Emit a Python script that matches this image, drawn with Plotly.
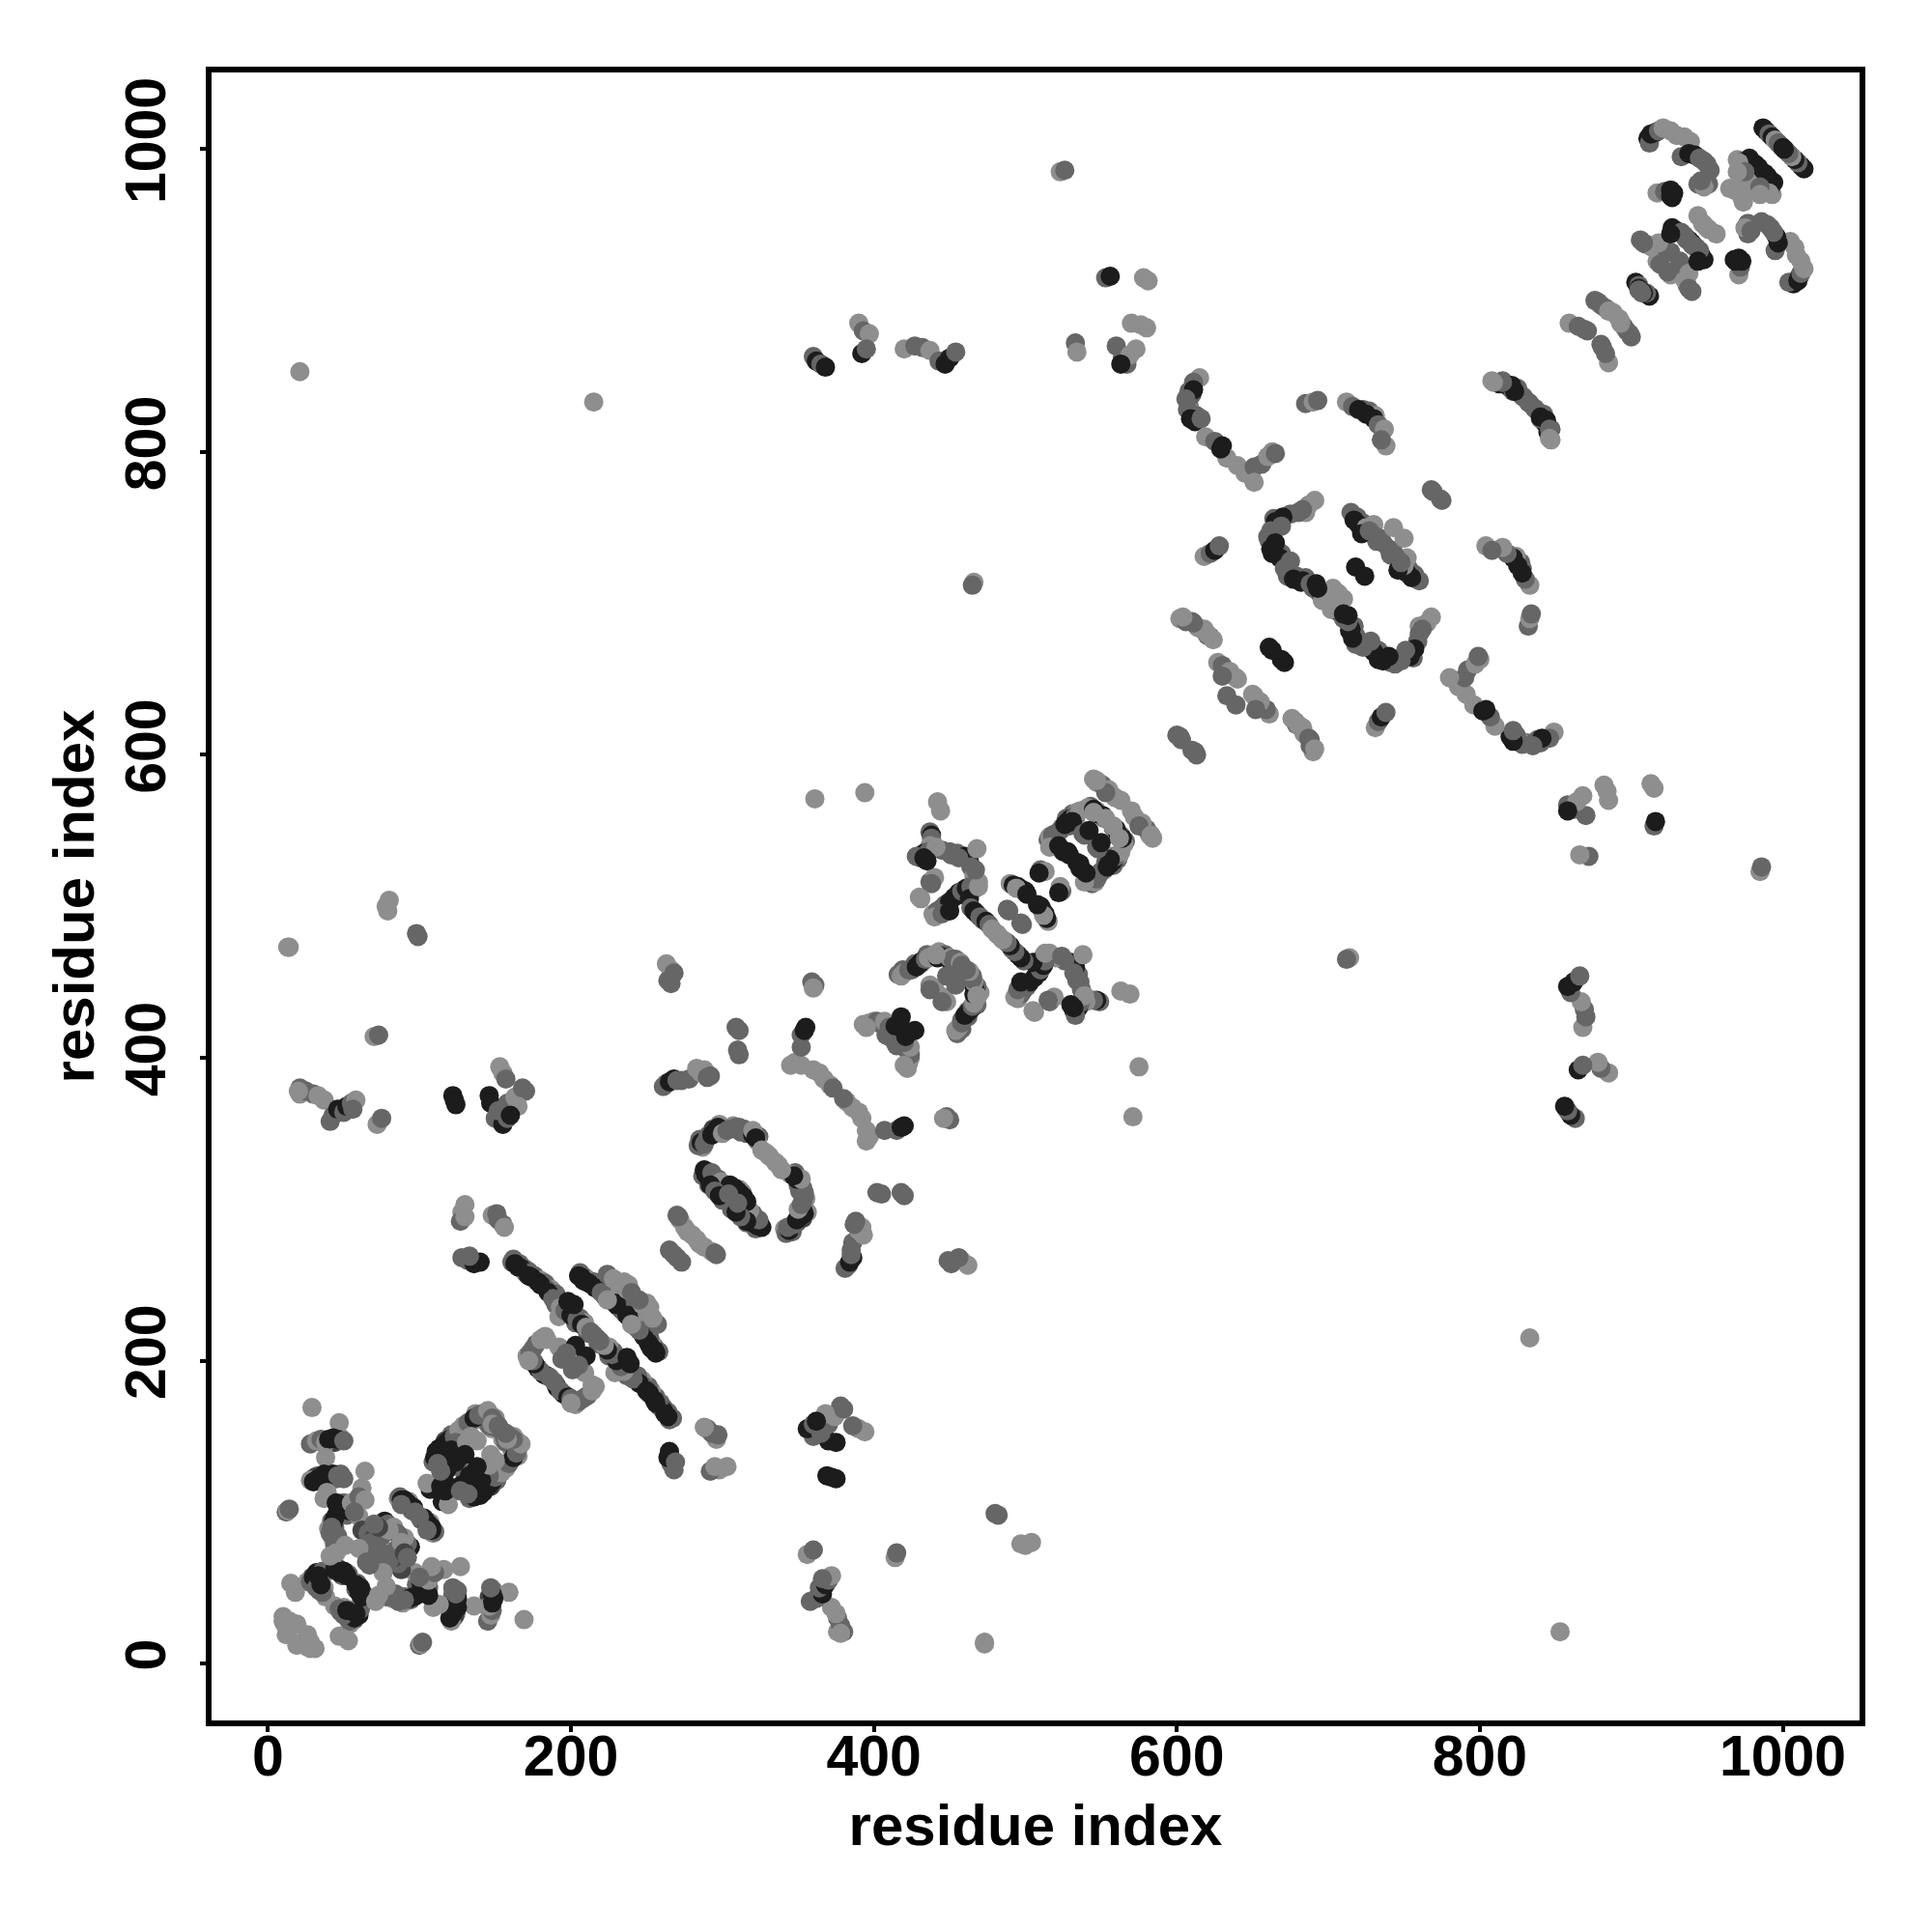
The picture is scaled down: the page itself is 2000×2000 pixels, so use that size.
import plotly.graph_objects as go

# contacts between residues: (residue i, residue j, strength 1..3); the map is symmetric
halo_contacts = [(29,57,2),(31,54,2.5),(35,60,2),(38,60,1),(46,63,2.5),(49,58,2),(53,59,2),(33,52,2),(37,50,1),
    (36,146,2),(41,147,2),(44,146,2.5),(48,149,1),(33,124,2),(39,126,2),(45,122,2),(48,125,2),(31,123,2.5),(47,103,2),(50,106,2),(52,98,2),(44,90,2),(42,94,2),(45,98,2),(40,89,1),(43,82,1),(46,84,2),
    (88,107,2),(93,107,1),(95,101,2),(91,105,2),
    (112,138,2),(114,141,1),(117,147,2.5),(119,144,2),(122,147,1),(121,151,2),(125,151,2),(128,154,2),(131,155,1),(134,160,2),(137,165,1),(141,161,1),(143,163,2),(147,164,2),(150,162,1),(151,156,1),(154,153,2),(155,148,1),(157,146,2),(116,130,2),(125,130,2),(113,135,2),
    (162,267,2),(166,264,2),(169,261,2),(172,259,2),(176,256,2),(180,253,1),(183,251,2),(187,247,1),(190,244,2),(184,247,2),(192,238,1),(199,234,2),(202,232,1),(206,228,2),(209,225,1),(203,225,2),(211,218,2),(215,217,2),
    (206,258,2),(209,255,2),(212,253,1),(215,252,2),(219,249,1),(223,246,2),(228,241,2),(232,238,1),(235,235,2),(239,232,2),(227,244,1),(233,240,2),
    (285,346,2),(287,341,1),(291,349,2),(294,353,2.5),(298,356,1),(301,353,2),(307,355,1),(314,353,2),(318,351,1),(324,348,2),(290,325,2),(294,321,2),(296,317,1),(301,316,2),(306,313,2),(303,309,2),(309,309,2),(313,311,1),(287,322,2),(291,316,2),
    (419,458,2),(427,462,2),(431,462,1),(435,468,2),(443,470,1),(447,468,2),(451,463,1),(455,463,2),
    (519,545,2),(524,552,1),(527,558,2),(531,561,2),(534,562,1),(543,566,2),(547,563,1),(552,558,2),(529,553,2),(533,557,1),(519,542,2),
    (610,838,2),(608,831,2),(610,826,1),(613,824,2),(815,847,2),(820,842,1),(826,839,2),(842,825,2),(723,828,2),(727,827,2),(731,824,1),
    (664,756,2),(667,753,2),(663,746,2),(660,744,2),(666,736,2),(669,733,2),(674,725,2),(679,718,2),(685,717,2),(690,710,2),(694,707,2),(685,760,1),(719,757,2),(723,753,2),(728,747,2),(732,741,2)]
block_near_start = [(10,31,1),(11,26,1),(12,19,1),(14,28,1),(19,26,1),(13,20,1),(12,26,1),(10,28,1),(15,53,1),(18,47,1),(12,100,2),(13,101,1),
    (26,54,1),(28,54,2),(30,57,3),(32,60,3),(34,55,2),(36,61,2),(40,62,2),(44,62,3),(47,60,3),(50,61,3),(52,58,3),(32,50,2),(34,48,2),(38,44,1),(36,47,2),(33,58,3),(35,52,3)]
block_arms = [(29,169,1),(47,159,1),(28,145,2),(32,147,1),(35,148,2),(38,146,1),(40,148,3),(43,149,3),(46,148,3),(50,147,2),(38,136,1),(28,121,1),(30,120,3),(33,122,3),(37,125,3),(40,124,3),(43,125,3),(46,124,2),(50,122,2),(64,127,1),(37,109,1),(39,113,1),
    (45,106,3),(47,105,3),(50,103,3),(53,101,3),(46,100,3),(44,96,3),(43,93,3),(42,90,2),(41,86,2),(44,78,2),(47,80,2),(51,78,1),(41,71,1),(45,73,1),(55,106,1),(62,116,1),(60,110,2),(64,108,1),(60,97,1),(57,100,2),
    (62,88,2.5),(66,86,2),(70,83,2.5),(68,80,2),(75,84,2),(74,74,2),(77,94,3),(79,92,2),(83,90,1),(85,86,2),(80,88,1),(73,90,2.5),(70,92,2),(66,78,2),(60,76,1),(67,65,2)]
block_pairs = [(86,109,1),(87,110,2),(88,108,3),(90,108,3),(92,106,3),(94,104,3),(96,103,3),(88,105,2),(97,100,2),
    (107,115,3),(116,122,3),(105,119,1),(114,117,3)]
block_barrel = [(109,133,2),(110,136,3),(111,140,3),(113,142,3),(116,144,3),(118,146,3),(120,148,3),(123,150,2),(126,154,1),(129,157,1),(132,159,2),(136,162,3),(139,164,2),(142,165,2),(145,167,1),(148,162,2),(150,159,2),(153,155,2),(156,150,2),(158,148,1),(152,157,2),
    (126,135,2),(138,147,1),(119,137,3),(122,134,3),(124,133,3),(127,142,2),(124,146,2),(115,131,3),(118,128,3),(114,127,2),(112,132,2),(121,141,3),(131,146,1),(134,150,1),(130,138,3)]
block_long_a = [(21,853,1),(215,833,1),(13,473,1),(21,380,2),(21,376,1),(25,378,2),(30,376,2),(33,375,1),(37,372,1),(41,358,2),(43,362,2),(46,366,3),(50,364,2),(52,368,3),(55,370,2),(58,372,1),(56,366,2),(72,356,1),(75,360,2),(70,414,1),(73,415,2),(78,500,1),(80,504,1),(79,497,1),(98,482,2),(99,480,2),
    (122,375,3),(124,369,3),(123,372,3),(146,375,3),(147,370,3),(150,360,2),(155,356,3),(158,360,2),(153,394,1),(155,390,1),(157,386,2),(158,370,2),(163,374,1),(168,380,2),(170,378,2),(165,368,1),(152,365,2),(160,362,3),
    (128,298,1),(127,292,2),(128,268,2),(132,266,2),(136,264,3),(140,265,3),(133,269,2),(148,296,1),(152,293,2),(155,290,2),(151,297,2),(156,288,1),(130,295,1),(130,303,1),(20,378,1),
    (14,473,1),(13,101,1),(102,14,2)]
block_strand_a = [(161,265,2),(163,264,3),(167,261,3),(170,258,2),(174,255,3),(178,252,3),(182,249,2),(185,245,3),(188,241,2),(190,237,2),(193,235,1),(192,229,1),(196,233,2),(200,230,3),(204,227,2),(207,224,3),(210,222,1),(213,219,2),(165,262,3),(172,256,3),(180,250,3),(202,237,3),(198,239,3),
    (205,256,3),(207,255,3),(210,252,3),(214,250,2),(218,247,2),(222,243,2),(226,241,1),(229,238,3),(231,236,3),(234,233,2),(237,230,3),(212,251,3),(216,248,3),(220,245,2),(224,240,1),(208,253,3),
    (224,257,2),(235,252,1),(238,250,1),(237,247,1),(240,245,2),(228,254,1)]
block_ring_b = [(171,203,1),(173,205,2),(175,208,2),(177,211,2),(180,214,1),(183,216,1),(184,214,1),(182,191,3),(184,190,3),(186,189,2),(178,195,3),(180,193,2),(192,209,1),(194,201,2),(203,210,3),(197,205,2),(176,198,3),(175,200,2),(172,200,1)]
block_ring_c = [(270,296,2),(272,293,1),(275,288,1),(277,285,1),(280,283,1),(271,295,2),(265,273,2),(268,270,2),
    (261,381,2),(263,383,2),(265,384,3),(268,386,3),(270,385,2),(273,385,2),(278,386,2),(283,393,1),(286,390,1),(288,392,1),(292,388,2),(290,387,2),
    (284,342,2),(286,344,3),(288,343,2),(290,347,2),(293,349,3),(295,351,3),(297,354,3),(297,352,3),(300,350,1),(303,352,2),(305,353,2),(309,354,2),(311,354,2),(312,351,2),(316,350,2),(320,349,3),(320,352,1),(323,345,1),(322,347,3),(326,339,1),(329,337,1),(331,335,1),
    (288,326,3),(291,320,3),(289,323,3),(293,324,2),(297,320,2),(299,318,1),(302,312,2),(305,316,3),(308,314,3),(310,312,3),(300,306,2),(292,316,3),(295,312,2),(298,309,3),(304,310,2),
    (309,420,2),(311,418,2),(310,405,2),(311,402,2),(263,462,1),(266,458,1),(268,456,2),(264,451,2),(266,449,2)]
block_ring_d = [(345,395,1),(348,397,1),(352,395,1),(352,407,2),(352,415,2),(355,420,3),(354,418,3),(360,392,1),(364,390,1),(367,386,1),(371,382,1),(373,380,2),(361,448,2),(359,450,2),(360,446,1),(361,571,1),(394,575,1),
    (393,422,1),(397,423,1),(400,424,1),(402,424,2),(405,422,2),(408,415,2),(412,414,2),(395,420,1),(407,424,1),(410,420,2),(414,410,2),(418,427,3),(420,418,3),(421,414,3)]
block_ring_e = [(416,455,2),(418,454,1),(420,456,1),(423,458,2),(425,458,2),(428,460,3),(430,462,3),(432,464,3),(434,465,2),(436,466,1),(440,468,1),(442,466,3),(444,467,3),(448,466,3),(450,466,1),(452,465,2),(454,465,2),(457,463,1),(458,461,2),(441,468,1),
    (437,448,1),(440,446,1),(437,445,2),(448,454,2),(450,454,2)]
block_ring_f = [(442,569,1),(444,563,1),(437,549,2),(438,547,3),(438,545,2),(437,540,1),(433,535,3),(431,532,3),(428,533,2),(436,536,2),(440,538,2),(445,537,2),(450,536,2),(455,535,2),(460,533,3),(463,530,3),(468,538,1),(464,526,2),(466,520,1),(469,516,1),(467,512,2),(437,516,2),(440,519,1),(430,506,1),(438,515,2),(431,505,1),(439,495,1),(442,497,2),(445,499,2),(447,501,2),(450,503,3),(453,506,3),(456,509,3),(458,510,2),(461,512,3),(464,513,2),(440,493,1),(445,495,2),(450,497,3),(463,505,3),(469,513,1),(467,524,2),(456,532,2),(451,534,2),(441,539,1),(433,532,3),(435,530,3),
    (464,499,2),(466,497,3),(468,495,3),(470,493,2),(472,491,2),(474,490,3),(476,488,2),(478,485,1),(481,482,1),
    (490,515,1),(492,514,3),(495,513,3),(498,511,3),(500,510,3),(494,512,1),(488,498,2),(489,497,2),(501,508,3),(512,523,2),(510,524,2),(513,523,1),(509,522,3)]
block_ring_g = [(515,544,2),(516,546,1),(518,547,2),(520,548,2),(523,550,2),(526,554,3),(528,556,3),(530,558,3),(533,560,2),(536,563,1),(541,565,1),(545,564,3),(548,561,3),(551,560,3),(553,558,1),(545,562,1),(531,556,3),(516,539,1),(529,534,3),(528,536,3),(538,548,2),(539,547,2),(542,550,3),(522,540,3),(525,536,3),
    (545,584,1),(547,582,1),(548,582,1),(551,580,2),(555,577,1),(559,572,1),(563,570,1),(553,575,2),(547,583,1)]
block_long_b = [(523,985,1),(526,986,2),(553,915,2),(556,916,3),(578,915,1),(581,913,1),(533,872,2),(534,866,1),(560,870,2),(564,862,2),(567,858,2),(569,864,1),(573,868,1),(570,885,1),(576,884,1),(580,882,1),(563,858,3),
    (360,863,2),(362,860,3),(365,858,2),(368,856,3),(390,885,1),(393,880,2),(397,878,1),(392,865,3),(395,868,2),(420,868,1),(427,870,2),(432,869,2),(437,867,1),(443,860,2),(447,858,3),(450,862,3),(454,866,2),(466,714,1),(465,712,2)]
block_sheet_h = [(615,849,1),(611,846,2),(608,840,2),(611,841,3),(606,835,2),(607,828,2),(609,822,3),(612,820,3),(616,822,2),(619,810,1),(625,807,2),(630,804,3),(633,796,1),(640,791,1),(645,786,1),(649,784,1),(651,790,2),(656,792,2),(660,797,1),(663,800,1),
    (685,832,2),(690,833,1),(693,834,2),(712,833,1),(716,830,2),(720,828,3),(725,825,3),(730,822,3),(733,818,2),(737,815,1),(738,804,1),(735,808,2),
    (808,847,1),(813,845,3),(818,844,3),(822,840,2),(828,837,2),(832,833,2),(836,829,2),(840,823,3),(844,821,3),(846,815,2),(846,809,1),
    (768,775,2),(774,769,2),(618,731,1),(622,733,2),(625,735,3),(628,738,2)]
block_ring_i = [(691,768,1),(687,765,1),(683,762,2),(680,760,2),(675,759,2),(670,757,3),(665,754,3),(669,751,2),(662,748,2),(661,741,2),(665,740,3),(662,736,3),(663,733,3),(668,730,3),(675,728,2),(671,723,2),(673,718,2),(677,716,3),(682,714,3),(683,715,3),(688,713,2),(692,712,2),(692,713,3),(696,704,3),(698,702,3),(703,710,1),(706,707,1),(696,702,1),(693,710,3),
    (715,760,2),(717,755,3),(720,752,3),(725,750,1),(730,752,1),(730,745,2),(734,743,2),(736,740,2),(743,750,1),(718,724,3),(722,746,3),(727,748,2),
    (602,690,1),(606,688,2),(610,688,2),(614,684,1),(618,682,1),(622,678,2),(620,679,2),(627,661,1),(630,659,2),(635,655,1),(639,651,1),(633,639,2),(640,650,1),(630,652,2),(676,624,1),(680,620,1),(683,618,1),(687,611,2),(691,604,1),(600,613,2),(603,610,2),(602,612,2),
    (661,671,3),(663,669,3),(651,780,1),(665,799,2),(629,802,3)]
block_end = [(859,885,1),(865,883,2),(869,881,2),(871,880,2),(876,900,2),(878,899,2),(880,897,2),(883,895,2),(885,893,1),(886,893,1),(888,892,1),(903,912,3),(905,910,2),(905,908,3),(907,905,2),
    (906,940,2),(910,937,2),(914,935,1),(919,935,1),(917,926,1),(919,930,1),(924,932,2),(919,924,2),(926,932,2),(918,938,1),(908,938,2),
    (917,971,1),(922,972,2),(926,973,3),(926,969,3),(928,971,3),(927,968,3),
    (927,948,3),(930,946,3),(933,945,2),(935,943,2),(938,940,3),(940,937,2),(941,936,2),(926,944,3),(944,956,1),(947,951,1),(950,948,1),
    (951,977,2),(944,977,2),(948,975,1),(946,979,2),
    (911,1007,3),(912,1004,2),(913,1010,3),(916,1011,3),(918,1012,2),(921,1014,1),(926,1012,1),(930,1009,1),(935,1008,1),(939,1005,1),(933,995,2),(938,997,3),(942,996,3),(945,994,2),(948,992,2),(950,990,2),(952,986,2),
    (970,993,1),(974,992,2),(978,994,3),(982,990,3),(984,988,3),(974,983,1),(976,980,1),(965,974,1),(968,973,1),(971,991,1),(975,985,2),(970,985,1),
    (987,1014,3),(989,1012,3),(991,1010,2),(993,1008,3),(995,1006,1),(997,1004,2),(999,1002,2),(1000,1001,3)]

x_ticks = [0, 200, 400, 600, 800, 1000]
axis_title = "residue index"

contacts = (halo_contacts + block_near_start + block_arms + block_pairs + block_barrel + block_long_a + block_strand_a
            + block_ring_b + block_ring_c + block_ring_d + block_ring_e + block_ring_f + block_ring_g
            + block_long_b + block_sheet_h + block_ring_i + block_end)

xs, ys, strength = [], [], []
for i, j, s in contacts:
    xs += [i, j]
    ys += [j, i]
    strength += [s, s]

font = "Liberation Sans"
fig = go.Figure(go.Scatter(
    x=xs, y=ys, mode="markers", showlegend=False,
    marker=dict(size=20, color=strength, cmin=1, cmax=3,
                colorscale=[[0, "#8e8e8e"], [0.5, "#666666"], [0.75, "#444444"], [1, "#1c1c1c"]],
                line=dict(width=0)),
))
axis_common = dict(
    tickvals=x_ticks, ticks="outside", ticklen=6, tickwidth=3.5, tickcolor="black",
    showline=True, linewidth=5.5, linecolor="black", mirror=True, zeroline=False, showgrid=False,
    tickfont=dict(family=font, size=59, color="black", weight="bold"),
)
fig.update_xaxes(range=[-37.3, 1050.7], ticklabelstandoff=-26,
                 title=dict(text="<b>%s</b>" % axis_title, standoff=20,
                            font=dict(family=font, size=60, color="black")), **axis_common)
fig.update_yaxes(range=[-37.6, 1050.6], tickangle=-90, ticklabelstandoff=13,
                 title=dict(text="<b>%s</b>" % axis_title, standoff=3,
                            font=dict(family=font, size=60, color="black")), **axis_common)
fig.update_layout(width=2000, height=2000, plot_bgcolor="white", paper_bgcolor="white",
                  margin=dict(l=219, r=75, t=75, b=219, autoexpand=False))
fig.write_html("out.html", post_script="document.body.style.margin='0';",
               config=dict(displayModeBar=False))
